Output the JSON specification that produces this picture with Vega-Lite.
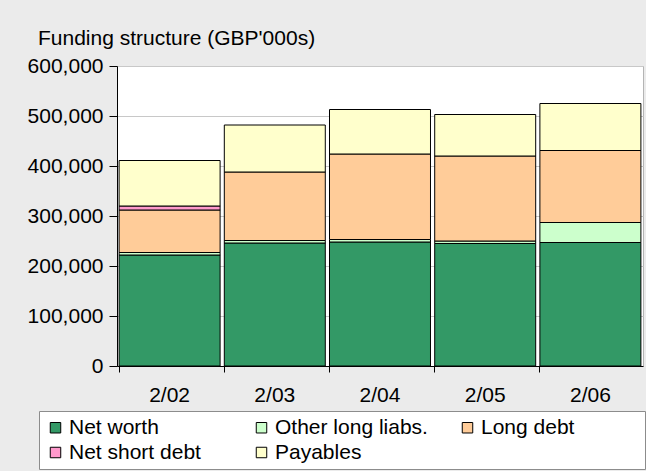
{
  "$schema": "https://vega.github.io/schema/vega-lite/v6.json",
  "width": 526,
  "height": 300,
  "autosize": {"type": "none"},
  "padding": {"left": 117, "top": 66, "right": 3, "bottom": 105},
  "background": "#ebebeb",
  "config": {
    "view": {"fill": "white", "stroke": "#b4b4b4"},
    "font": "Liberation Sans",
    "axis": {"labelFont": "Liberation Sans", "labelFontSize": 21, "labelColor": "black", "domainColor": "black", "tickColor": "black", "domainWidth": 1, "tickWidth": 1}
  },
  "title": {
    "text": "Funding structure (GBP'000s)",
    "anchor": "start",
    "frame": "group",
    "dx": -79,
    "offset": -11,
    "baseline": "alphabetic",
    "fontSize": 21,
    "fontWeight": "normal",
    "font": "Liberation Sans",
    "color": "black"
  },
  "data": {
    "values": [
      {"year": "2/02", "series": "Net worth", "k": 1, "value": 222000},
      {"year": "2/02", "series": "Other long liabs.", "k": 2, "value": 5000},
      {"year": "2/02", "series": "Long debt", "k": 3, "value": 85000},
      {"year": "2/02", "series": "Net short debt", "k": 4, "value": 8000},
      {"year": "2/02", "series": "Payables", "k": 5, "value": 91000},
      {"year": "2/03", "series": "Net worth", "k": 1, "value": 246000},
      {"year": "2/03", "series": "Other long liabs.", "k": 2, "value": 5000},
      {"year": "2/03", "series": "Long debt", "k": 3, "value": 137000},
      {"year": "2/03", "series": "Payables", "k": 5, "value": 94000},
      {"year": "2/04", "series": "Net worth", "k": 1, "value": 248000},
      {"year": "2/04", "series": "Other long liabs.", "k": 2, "value": 5000},
      {"year": "2/04", "series": "Long debt", "k": 3, "value": 171000},
      {"year": "2/04", "series": "Payables", "k": 5, "value": 89000},
      {"year": "2/05", "series": "Net worth", "k": 1, "value": 245000},
      {"year": "2/05", "series": "Other long liabs.", "k": 2, "value": 5000},
      {"year": "2/05", "series": "Long debt", "k": 3, "value": 170000},
      {"year": "2/05", "series": "Payables", "k": 5, "value": 83000},
      {"year": "2/06", "series": "Net worth", "k": 1, "value": 247000},
      {"year": "2/06", "series": "Other long liabs.", "k": 2, "value": 40000},
      {"year": "2/06", "series": "Long debt", "k": 3, "value": 144000},
      {"year": "2/06", "series": "Payables", "k": 5, "value": 94000}
    ]
  },
  "mark": {"type": "bar", "stroke": "black", "strokeWidth": 1},
  "encoding": {
    "x": {
      "field": "year",
      "type": "nominal",
      "scale": {"paddingInner": 0.04, "paddingOuter": 0.02},
      "axis": {"title": null, "labelAngle": 0, "bandPosition": 0, "tickSize": 6, "labelPadding": 12, "grid": false}
    },
    "y": {
      "field": "value",
      "type": "quantitative",
      "stack": "zero",
      "scale": {"domain": [0, 600000], "nice": false},
      "axis": {"title": null, "format": ",.0f", "values": [0, 100000, 200000, 300000, 400000, 500000, 600000], "grid": true, "gridColor": "#c8c8c8", "tickSize": 8, "labelPadding": 6}
    },
    "order": {"field": "k", "type": "quantitative", "sort": "ascending"},
    "color": {
      "field": "series",
      "type": "nominal",
      "scale": {
        "domain": ["Net worth", "Other long liabs.", "Long debt", "Net short debt", "Payables"],
        "range": ["#339966", "#ccffcc", "#ffcc99", "#ff99cc", "#ffffcc"]
      },
      "legend": {
        "title": null,
        "orient": "none",
        "direction": "horizontal",
        "legendX": -78,
        "legendY": 345,
        "columns": 3,
        "gridAlign": "all",
        "columnPadding": 24,
        "rowPadding": 3,
        "padding": 6,
        "fillColor": "white",
        "strokeColor": "#8c8c8c",
        "symbolType": "square",
        "symbolSize": 110,
        "symbolStrokeColor": "black",
        "symbolStrokeWidth": 1,
        "symbolOpacity": 1,
        "labelFont": "Liberation Sans",
        "labelFontSize": 21,
        "labelColor": "black",
        "labelOffset": 3,
        "labelLimit": 400,
        "labelExpr": "datum.label == 'Long debt' ? 'Long debt\u00a0\u00a0\u00a0\u00a0\u00a0\u00a0\u00a0\u00a0\u00a0\u00a0\u00a0\u200b' : datum.label"
      }
    }
  }
}
